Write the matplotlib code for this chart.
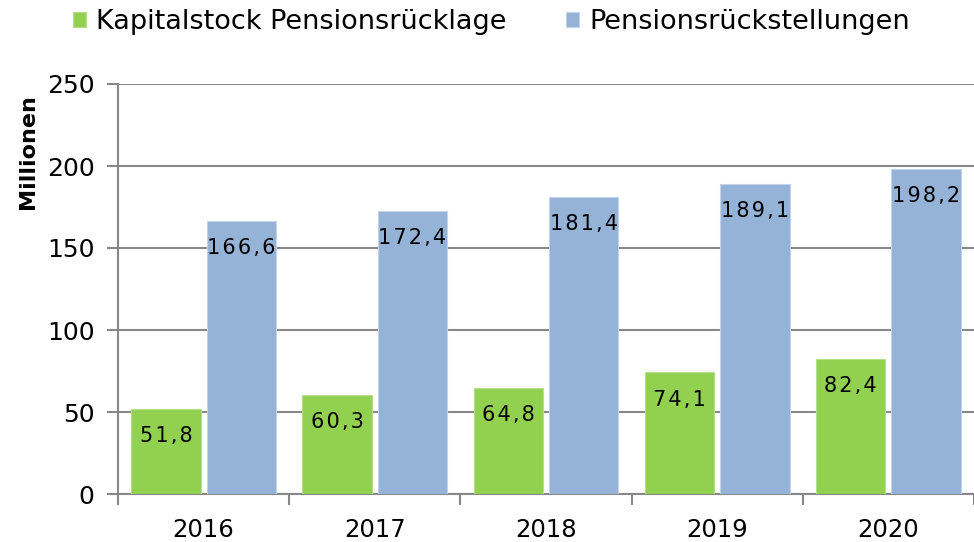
import numpy as np
import matplotlib
matplotlib.use("Agg")
import matplotlib.pyplot as plt

# data
years = ["2016", "2017", "2018", "2019", "2020"]
kapitalstock = [51.8, 60.3, 64.8, 74.1, 82.4]
rueckstellungen = [166.6, 172.4, 181.4, 189.1, 198.2]
series_names = ["Kapitalstock Pensionsrücklage", "Pensionsrückstellungen"]

green = "#92D050"
blue = "#95B3D7"
grid_col = "#888888"

plt.rcParams["font.family"] = ["DejaVu Sans"]

fig = plt.figure(figsize=(9.74, 5.42), dpi=100)
ax = fig.add_axes([118 / 974, 1 - 494 / 542, 1 - 118 / 974, (494 - 84) / 542])

x = np.arange(len(years))
off = 0.22
w = 0.405
b1 = ax.bar(x - off, kapitalstock, w, color=green, edgecolor="#b5e08a", linewidth=0.8,
            label=series_names[0], zorder=3)
b2 = ax.bar(x + off, rueckstellungen, w, color=blue, edgecolor="#c3d4ea", linewidth=0.8,
            label=series_names[1], zorder=3)


def spaced(v):
    s = f"{v:.1f}".replace(".", ",")
    return "\u200a".join(s)


for bars, vals in [(b1, kapitalstock), (b2, rueckstellungen)]:
    for r, v in zip(bars, vals):
        ax.annotate(spaced(v), (r.get_x() + r.get_width() / 2, v), xytext=(0, -19.5),
                    textcoords="offset points", ha="center", va="center",
                    fontsize=15, color="black", zorder=4)

ax.set_ylim(0, 250)
ax.set_yticks([0, 50, 100, 150, 200, 250])
ax.set_xlim(-0.5, 4.448)

# boundaries get the tick marks, centres get the year labels
ax.set_xticks(np.arange(-0.5, 5.0, 1.0))
ax.set_xticklabels([])
ax.set_xticks(x, minor=True)
ax.set_xticklabels(years, minor=True)
ax.tick_params(axis="x", which="major", length=8, width=1.5, color=grid_col)
ax.tick_params(axis="x", which="minor", length=0, pad=17, labelsize=17.5)
ax.tick_params(axis="y", length=8, width=1.5, color=grid_col, pad=9, labelsize=18)

ax.yaxis.grid(True, color=grid_col, linewidth=1.5, zorder=0)
ax.set_axisbelow(True)
for s in ["top", "right"]:
    ax.spines[s].set_visible(False)
for s in ["left", "bottom"]:
    ax.spines[s].set_color(grid_col)
    ax.spines[s].set_linewidth(1.5)

fig.text(28 / 974, 1 - 152 / 542, "Millionen", rotation=90, ha="center", va="center",
         fontsize=16, fontweight="bold")

fig.legend(handles=[b1, b2], loc="center left", bbox_to_anchor=(62 / 974, 1 - 22 / 542),
           ncol=2, frameon=False, fontsize=19.5, handlelength=0.5, handleheight=0.5,
           handletextpad=0.35, columnspacing=2.2, borderaxespad=0)

fig.savefig("out.png", dpi=100)
